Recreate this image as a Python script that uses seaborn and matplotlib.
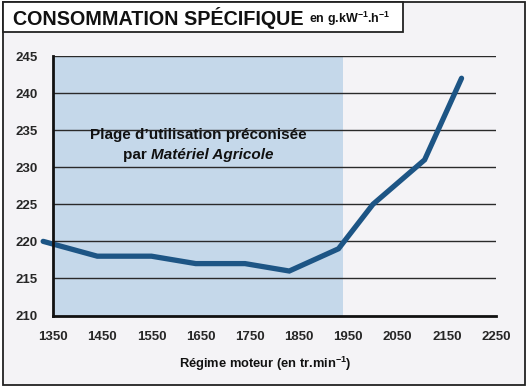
import matplotlib
matplotlib.use("Agg")
import matplotlib.pyplot as plt
from matplotlib.patches import Rectangle
import seaborn as sns
import pandas as pd

# ---- data ----
rpm = [1330, 1440, 1550, 1640, 1740, 1830, 1930, 2000, 2105, 2180]
conso = [220, 218, 218, 217, 217, 216, 219, 225, 231, 242]
x_ticks = [1350, 1450, 1550, 1650, 1750, 1850, 1950, 2050, 2150, 2250]
y_ticks = [210, 215, 220, 225, 230, 235, 240, 245]
zone_start, zone_end = 1350, 1940

title_main = "CONSOMMATION SPÉCIFIQUE"
title_unit = r"en g.kW$^{\mathbf{-1}}$.h$^{\mathbf{-1}}$"
xlabel = r"Régime moteur (en tr.min$^{\mathbf{-1}}$)"
note1 = "Plage d\u2019utilisation préconisée"
note2a = "par "
note2b = "Matériel Agricole"

sns.set_style("white")
plt.rcParams["font.family"] = ["Liberation Sans", "DejaVu Sans"]
plt.rcParams["mathtext.fontset"] = "custom"
plt.rcParams["mathtext.rm"] = "Liberation Sans:bold"
plt.rcParams["mathtext.bf"] = "Liberation Sans:bold"
plt.rcParams["mathtext.it"] = "Liberation Sans:bold:italic"

BG = "#f4f3f6"
LINE = "#1d5585"
ZONE = "#c5d8ea"
W, H = 529, 388

fig = plt.figure(figsize=(W / 100, H / 100), dpi=100)
fig.patch.set_facecolor("white")

# outer frame
fig.add_artist(Rectangle((3 / W, 1 - 385 / H), 522 / W, 383 / H, transform=fig.transFigure,
                         facecolor=BG, edgecolor="#222222", linewidth=1.3, zorder=0))
# title box
fig.add_artist(Rectangle((3 / W, 1 - 32 / H), 400 / W, 30 / H, transform=fig.transFigure,
                         facecolor="white", edgecolor="#222222", linewidth=1.3, zorder=1))
t = fig.text(13 / W, 1 - 18 / H, title_main, fontsize=14.2, fontweight="bold",
             va="center", ha="left", color="#111111")
fig.canvas.draw()
bb = t.get_window_extent()
fig.text((bb.x1 + 5) / W, 1 - 19 / H, title_unit, fontsize=9, fontweight="bold",
         va="center", ha="left", color="#111111")

ax = fig.add_axes([53 / W, 1 - 315.5 / H, 443 / W, 259.5 / H])
ax.set_facecolor("none")
ax.axvspan(zone_start, zone_end, color=ZONE, zorder=0, lw=0)
for yv in y_ticks[1:]:
    ax.axhline(yv, color="#2a2a2a", lw=1.0, zorder=1)

df = pd.DataFrame({"rpm": rpm, "conso": conso})
sns.lineplot(data=df, x="rpm", y="conso", ax=ax, color=LINE, linewidth=3.8,
             sort=False, zorder=3, clip_on=False, solid_capstyle="round",
             solid_joinstyle="miter")

ax.set_xlim(1350, 2250)
ax.set_ylim(210, 245)
ax.set_xticks(x_ticks)
ax.set_yticks(y_ticks)
for s in ["top", "right"]:
    ax.spines[s].set_visible(False)
for s in ["left", "bottom"]:
    ax.spines[s].set_color("#111111")
    ax.spines[s].set_linewidth(2)
    ax.spines[s].set_zorder(4)
ax.tick_params(axis="x", direction="out", length=8, width=2, color="#111111", pad=3)
ax.tick_params(axis="y", direction="out", length=10, width=2, color="#111111", pad=1)
for lab in ax.get_xticklabels():
    lab.set_fontweight("bold")
    lab.set_fontsize(9.5)
for lab in ax.get_yticklabels():
    lab.set_fontweight("bold")
    lab.set_fontsize(9.5)
ax.set_xlabel(xlabel, fontsize=9.3, fontweight="bold", color="#111111")
ax.xaxis.set_label_coords(0.48, -0.15)
ax.set_ylabel("")

cx = 1645
ax.text(cx, 234.3, note1, ha="center", va="center", fontsize=11, fontweight="bold",
        color="#111111")
p1 = ax.text(0, 231.7, note2a, ha="left", va="center", fontsize=11, fontweight="bold",
             color="#111111")
p2 = ax.text(0, 231.7, note2b, ha="left", va="center", fontsize=11, fontweight="bold",
             style="italic", color="#111111")
fig.canvas.draw()
r = fig.canvas.get_renderer()
w1 = p1.get_window_extent(r).width
w2 = p2.get_window_extent(r).width
inv = ax.transData.inverted()
cxp = ax.transData.transform((cx, 0))[0]
start = inv.transform((cxp - (w1 + w2) / 2, 0))[0]
mid = inv.transform((cxp - (w1 + w2) / 2 + w1, 0))[0]
p1.set_x(start)
p2.set_x(mid)

fig.savefig("out.png", dpi=100, facecolor=fig.get_facecolor())
